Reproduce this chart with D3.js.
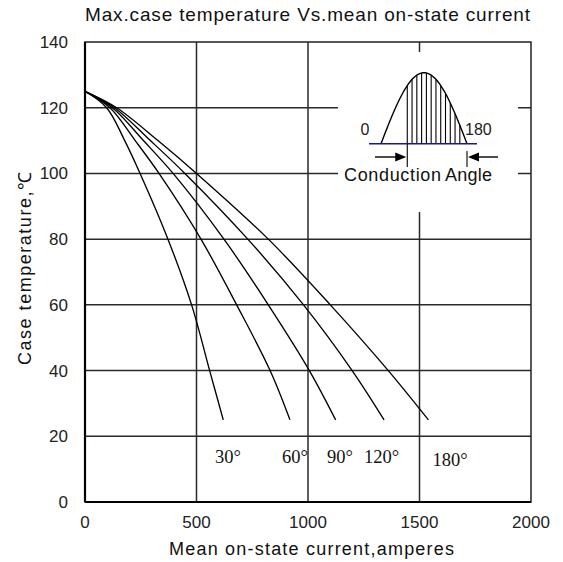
<!DOCTYPE html>
<html>
<head>
<meta charset="utf-8">
<script src="https://cdn.jsdelivr.net/npm/d3@7"></script>
<style>
  body { margin: 0; background: #fff; }
  svg { display: block; }
  .sans { font-family: "Liberation Sans", Arial, sans-serif; }
  .serif { font-family: "Liberation Serif", "Times New Roman", serif; }
</style>
</head>
<body>
<svg id="chart" width="563" height="562"></svg>
<script>
// temperatures (deg C) where each curve was read
var tempPoints = [125, 120, 110, 100, 80, 60, 40, 25];
// mean on-state current (A) at those temperatures, per conduction angle
var current30  = [0, 97, 178, 247, 372, 478, 559, 620];
var current60  = [0, 112, 225, 332, 520, 680, 830, 919];
var current90  = [0, 123, 262, 395, 623, 822, 1006, 1124];
var current120 = [0, 132, 293, 448, 730, 980, 1198, 1341];
var current180 = [0, 142, 327, 500, 822, 1100, 1360, 1540];
var angleLabels = ['30°', '60°', '90°', '120°', '180°'];
var xTicks = [0, 500, 1000, 1500, 2000];
var yTicks = [0, 20, 40, 60, 80, 100, 120, 140];

var svg = d3.select('#chart');
var x = d3.scaleLinear().domain([0, 2000]).range([85, 531]);
var y = d3.scaleLinear().domain([0, 140]).range([502, 42]);

var series = [current30, current60, current90, current120, current180].map(function (c, i) {
  return { name: angleLabels[i], pts: c.map(function (a, j) { return [a, tempPoints[j]]; }) };
});

// grid
var grid = svg.append('g').attr('stroke', '#2a2a2a').attr('stroke-width', 1.5);
grid.selectAll('line.h').data(yTicks.slice(1, -1)).enter().append('line')
  .attr('x1', x(0)).attr('x2', x(2000))
  .attr('y1', function (d) { return y(d); }).attr('y2', function (d) { return y(d); });
grid.selectAll('line.v').data(xTicks.slice(1, -1)).enter().append('line')
  .attr('y1', y(0)).attr('y2', y(140))
  .attr('x1', function (d) { return x(d); }).attr('x2', function (d) { return x(d); });

// white box behind the inset sketch
svg.append('rect')
  .attr('x', 338).attr('y', 52).attr('width', 180).attr('height', 160)
  .attr('fill', '#fff');

// curves
var line = d3.line()
  .x(function (d) { return x(d[0]); })
  .y(function (d) { return y(d[1]); })
  .curve(d3.curveCatmullRom.alpha(0.5));

svg.append('g').selectAll('path').data(series).enter().append('path')
  .attr('d', function (d) { return line(d.pts); })
  .attr('fill', 'none').attr('stroke', '#000').attr('stroke-width', 1.35);

// angle labels under the curve ends
var labelAt = [641, 942, 1143, 1330, 1637];
var labelTemp = [11.9, 11.9, 11.9, 11.9, 11];
svg.append('g').selectAll('text').data(angleLabels).enter().append('text')
  .attr('class', 'serif')
  .attr('x', function (d, i) { return x(labelAt[i]); })
  .attr('y', function (d, i) { return y(labelTemp[i]); })
  .attr('text-anchor', 'middle').attr('font-size', 18.5).attr('fill', '#111')
  .text(function (d) { return d; });

// frame
svg.append('rect')
  .attr('x', x(0)).attr('y', y(140)).attr('width', x(2000) - x(0)).attr('height', y(0) - y(140))
  .attr('fill', 'none').attr('stroke', '#222').attr('stroke-width', 1.5);
svg.append('line').attr('x1', x(0)).attr('x2', x(0)).attr('y1', y(140)).attr('y2', y(0))
  .attr('stroke', '#000').attr('stroke-width', 2.2);
svg.append('line').attr('x1', x(0)).attr('x2', x(2000)).attr('y1', y(0)).attr('y2', y(0))
  .attr('stroke', '#000').attr('stroke-width', 2.2);

// tick labels
svg.append('g').selectAll('text').data(xTicks).enter().append('text')
  .attr('class', 'sans').attr('font-size', 17).attr('fill', '#222')
  .attr('text-anchor', 'middle')
  .attr('x', function (d) { return x(d); }).attr('y', 528)
  .text(function (d) { return d; });
svg.append('g').selectAll('text').data(yTicks).enter().append('text')
  .attr('class', 'sans').attr('font-size', 17).attr('fill', '#222')
  .attr('text-anchor', 'end')
  .attr('x', 68).attr('y', function (d) { return y(d) + 6; })
  .text(function (d) { return d; });

// titles
svg.append('text').attr('class', 'sans').attr('font-size', 19).attr('fill', '#111')
  .attr('x', 85).attr('y', 21).attr('textLength', 445)
  .text('Max.case temperature  Vs.mean on-state current');
svg.append('text').attr('class', 'sans').attr('font-size', 18).attr('fill', '#111')
  .attr('x', 169).attr('y', 555).attr('textLength', 285)
  .text('Mean on-state current,amperes');
svg.append('text').attr('class', 'sans').attr('font-size', 18).attr('fill', '#111')
  .attr('transform', 'translate(31,365) rotate(-90)')
  .attr('textLength', 193)
  .text('Case temperature,℃');

// inset: half sine with hatched conduction part
var ins = svg.append('g');
var sx = d3.scaleLinear().domain([0, 180]).range([381, 467]);
var baseY = 143.7, amp = 71;
function sy(deg) { return baseY - amp * Math.sin(deg * Math.PI / 180); }

ins.append('path')
  .attr('d', d3.line().x(function (d) { return sx(d); }).y(sy)(d3.range(0, 181, 3)))
  .attr('fill', 'none').attr('stroke', '#000').attr('stroke-width', 1.4);

ins.selectAll('line.hatch').data(d3.range(55, 170, 10)).enter().append('line')
  .attr('x1', function (d) { return sx(d); }).attr('x2', function (d) { return sx(d); })
  .attr('y1', baseY).attr('y2', function (d) { return sy(d); })
  .attr('stroke', '#000').attr('stroke-width', 1.1);

ins.append('line').attr('x1', 369).attr('x2', 477).attr('y1', baseY).attr('y2', baseY)
  .attr('stroke', '#1a1a80').attr('stroke-width', 1.5);

// conduction markers and arrows
ins.append('line').attr('x1', sx(55)).attr('x2', sx(55)).attr('y1', baseY).attr('y2', 167)
  .attr('stroke', '#000').attr('stroke-width', 1.1);
ins.append('line').attr('x1', sx(180)).attr('x2', sx(180)).attr('y1', 151).attr('y2', 167)
  .attr('stroke', '#000').attr('stroke-width', 1.1);
var arrowY = 157;
ins.append('line').attr('x1', 375).attr('x2', 398).attr('y1', arrowY).attr('y2', arrowY)
  .attr('stroke', '#000').attr('stroke-width', 1.4);
ins.append('path').attr('d', 'M' + (sx(55) - 1) + ',' + arrowY + 'l-11,-4.5v9z').attr('fill', '#000');
ins.append('line').attr('x1', 476).attr('x2', 498).attr('y1', arrowY).attr('y2', arrowY)
  .attr('stroke', '#000').attr('stroke-width', 1.4);
ins.append('path').attr('d', 'M' + (sx(180) + 1) + ',' + arrowY + 'l11,-4.5v9z').attr('fill', '#000');

ins.append('text').attr('class', 'sans').attr('font-size', 16).attr('fill', '#222')
  .attr('text-anchor', 'middle').attr('x', 365).attr('y', 135).text('0');
ins.append('text').attr('class', 'sans').attr('font-size', 16).attr('fill', '#222')
  .attr('x', 465).attr('y', 135).text('180');
ins.append('text').attr('class', 'sans').attr('font-size', 18).attr('fill', '#111')
  .attr('x', 344).attr('y', 181).attr('textLength', 97).text('Conduction');
ins.append('text').attr('class', 'sans').attr('font-size', 18).attr('fill', '#111')
  .attr('x', 445).attr('y', 181).attr('textLength', 47).text('Angle');
</script>
</body>
</html>
